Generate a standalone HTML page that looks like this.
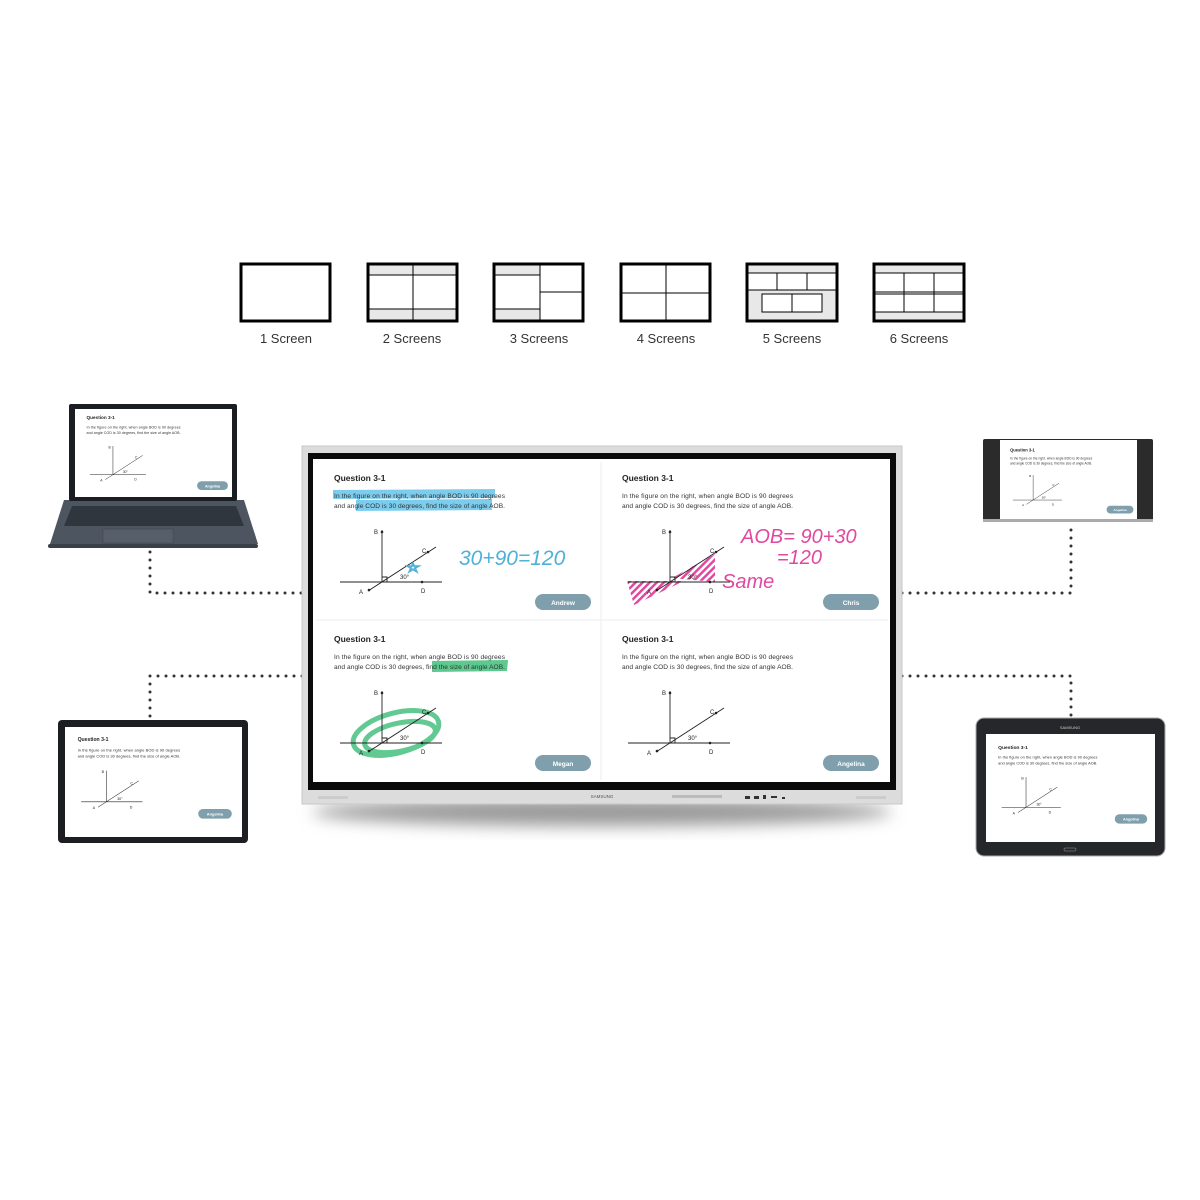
<!DOCTYPE html>
<html><head><meta charset="utf-8"><style>
html,body{margin:0;padding:0;background:#fff;}
svg{display:block;font-family:"Liberation Sans",sans-serif;}
</style></head><body>
<svg width="1200" height="1200" viewBox="0 0 1200 1200" xmlns="http://www.w3.org/2000/svg">
<defs>
<filter id="sh" x="-10%" y="-50%" width="120%" height="200%"><feGaussianBlur stdDeviation="8"/></filter>
<pattern id="hatch" width="5" height="5" patternUnits="userSpaceOnUse" patternTransform="rotate(45)"><rect width="2.5" height="5" fill="#e0499f"/></pattern>
</defs>
<rect width="1200" height="1200" fill="#fff"/>

<g stroke="#000" fill="none">
 <g>
  <rect x="241" y="264" width="89" height="57" fill="#fff" stroke-width="3"/>
 </g>
 <g>
  <rect x="368" y="264" width="89" height="11" fill="#e8e8e8" stroke="none"/>
  <rect x="368" y="309" width="89" height="12" fill="#e8e8e8" stroke="none"/>
  <line x1="368" y1="275" x2="457" y2="275" stroke-width="1"/><line x1="368" y1="309" x2="457" y2="309" stroke-width="1"/>
  <line x1="413" y1="264" x2="413" y2="321" stroke-width="1"/>
  <rect x="368" y="264" width="89" height="57" stroke-width="3"/>
 </g>
 <g>
  <rect x="494" y="264" width="46" height="11" fill="#e8e8e8" stroke="none"/>
  <rect x="494" y="309" width="46" height="12" fill="#e8e8e8" stroke="none"/>
  <line x1="494" y1="275" x2="540" y2="275" stroke-width="1"/><line x1="494" y1="309" x2="540" y2="309" stroke-width="1"/>
  <line x1="540" y1="264" x2="540" y2="321" stroke-width="1"/>
  <line x1="540" y1="292" x2="584" y2="292" stroke-width="1"/>
  <rect x="494" y="264" width="89" height="57" stroke-width="3"/>
 </g>
 <g>
  <line x1="666" y1="264" x2="666" y2="321" stroke-width="1"/>
  <line x1="621" y1="293" x2="710" y2="293" stroke-width="1"/>
  <rect x="621" y="264" width="89" height="57" stroke-width="3"/>
 </g>
 <g>
  <rect x="747" y="264" width="90" height="9" fill="#e8e8e8" stroke="none"/>
  <rect x="747" y="290" width="90" height="31" fill="#e8e8e8" stroke="none"/>
  <line x1="747" y1="273" x2="837" y2="273" stroke-width="1"/>
  <line x1="747" y1="290" x2="837" y2="290" stroke-width="1"/>
  <line x1="777" y1="273" x2="777" y2="290" stroke-width="1"/><line x1="807" y1="273" x2="807" y2="290" stroke-width="1"/>
  <rect x="762" y="294" width="60" height="18" fill="#fff" stroke-width="1"/>
  <line x1="792" y1="294" x2="792" y2="312" stroke-width="1"/>
  <rect x="747" y="264" width="90" height="57" stroke-width="3"/>
 </g>
 <g>
  <rect x="874" y="264" width="90" height="9" fill="#e8e8e8" stroke="none"/>
  <rect x="874" y="312" width="90" height="9" fill="#e8e8e8" stroke="none"/>
  <line x1="874" y1="273" x2="964" y2="273" stroke-width="1"/>
  <line x1="874" y1="292" x2="964" y2="292" stroke-width="1"/><line x1="874" y1="294" x2="964" y2="294" stroke-width="1"/>
  <line x1="874" y1="312" x2="964" y2="312" stroke-width="1"/>
  <line x1="904" y1="273" x2="904" y2="312" stroke-width="1"/><line x1="934" y1="273" x2="934" y2="312" stroke-width="1"/>
  <rect x="874" y="264" width="90" height="57" stroke-width="3"/>
 </g>
</g>
<g font-size="13" fill="#333" text-anchor="middle">
 <text x="286" y="343">1 Screen</text><text x="412" y="343">2 Screens</text><text x="539" y="343">3 Screens</text>
 <text x="666" y="343">4 Screens</text><text x="792" y="343">5 Screens</text><text x="919" y="343">6 Screens</text>
</g>

<g stroke="#333" stroke-width="3" stroke-linecap="round" stroke-dasharray="0 8" fill="none">
 <polyline points="150,552 150,593 302,593"/>
 <polyline points="902,593 1071,593 1071,525"/>
 <polyline points="302,676 150,676 150,718"/>
 <polyline points="902,676 1071,676 1071,716"/>
</g>

<ellipse cx="602" cy="812" rx="290" ry="14" fill="#999" filter="url(#sh)"/>
<rect x="302" y="446" width="600" height="358" fill="#dcdcdc" stroke="#c8c8c8"/>
<rect x="308" y="453" width="588" height="337" fill="#0a0a0a"/>
<rect x="313" y="459" width="577" height="323" fill="#fff"/>
<line x1="601" y1="462" x2="601" y2="780" stroke="#eee"/>
<line x1="316" y1="620" x2="888" y2="620" stroke="#eee"/>
<text x="602" y="798" font-size="4.5" fill="#555" text-anchor="middle">SAMSUNG</text>
<rect x="318" y="796" width="30" height="3" fill="#ccc"/><rect x="856" y="796" width="30" height="3" fill="#ccc"/>
<rect x="672" y="795" width="50" height="3" fill="#bbb"/>
<g fill="#333"><rect x="745" y="796" width="5" height="3"/><rect x="754" y="796" width="5" height="3"/><rect x="763" y="795" width="3" height="4"/><rect x="771" y="796" width="6" height="2"/><rect x="782" y="797" width="3" height="2"/></g>

<path d="M333,490 L495,489 L495,498 L333,499Z" fill="#5bc0e8" opacity="0.8"/>
<path d="M356,500 L492,499 L492,510 L356,511Z" fill="#5bc0e8" opacity="0.8"/>
<path d="M432,661 L508,660 L507,671 L432,672Z" fill="#3fbf7a" opacity="0.85"/>
<path d="M627,581 L684,581 L634,605Z" fill="url(#hatch)"/>
<path d="M672,578 L715,554 L715,582Z" fill="url(#hatch)"/>
<g fill="none" stroke="#46c07e" stroke-width="5" opacity="0.85">
 <ellipse cx="396" cy="733" rx="44" ry="20" transform="rotate(-15 396 733)"/>
 <ellipse cx="400" cy="737" rx="36" ry="14" transform="rotate(-12 400 737)"/>
</g>

<g transform="translate(313,459)">
 <text x="21" y="22" font-size="8.5" font-weight="bold" fill="#222">Question 3-1</text>
 <text x="21" y="39" font-size="6.6" fill="#333" textLength="171">In the figure on the right, when angle BOD is 90 degrees</text>
 <text x="21" y="49" font-size="6.6" fill="#333" textLength="171">and angle COD is 30 degrees, find the size of angle AOB.</text>
 <g stroke="#222" stroke-width="0.9" fill="none"><line x1="69" y1="71" x2="69" y2="123"/><line x1="27" y1="123" x2="129" y2="123"/><line x1="55" y1="132" x2="123" y2="88"/><polyline points="69,118 74,118 74,123"/></g>
 <g fill="#222"><circle cx="69" cy="73" r="1.3"/><circle cx="56" cy="131" r="1.3"/><circle cx="115" cy="93" r="1.3"/><circle cx="109" cy="123" r="1.3"/></g>
 <g font-size="6" fill="#222"><text x="61" y="75">B</text><text x="46" y="135">A</text><text x="109" y="94">C</text><text x="108" y="134">D</text><text x="87" y="120">30°</text></g>
 <rect x="222" y="135" width="56" height="16" rx="8" fill="#7f9fad"/>
 <text x="250" y="146" font-size="6.5" font-weight="bold" fill="#fff" text-anchor="middle">Andrew</text>
</g>
<g transform="translate(601,459)">
 <text x="21" y="22" font-size="8.5" font-weight="bold" fill="#222">Question 3-1</text>
 <text x="21" y="39" font-size="6.6" fill="#333" textLength="171">In the figure on the right, when angle BOD is 90 degrees</text>
 <text x="21" y="49" font-size="6.6" fill="#333" textLength="171">and angle COD is 30 degrees, find the size of angle AOB.</text>
 <g stroke="#222" stroke-width="0.9" fill="none"><line x1="69" y1="71" x2="69" y2="123"/><line x1="27" y1="123" x2="129" y2="123"/><line x1="55" y1="132" x2="123" y2="88"/><polyline points="69,118 74,118 74,123"/></g>
 <g fill="#222"><circle cx="69" cy="73" r="1.3"/><circle cx="56" cy="131" r="1.3"/><circle cx="115" cy="93" r="1.3"/><circle cx="109" cy="123" r="1.3"/></g>
 <g font-size="6" fill="#222"><text x="61" y="75">B</text><text x="46" y="135">A</text><text x="109" y="94">C</text><text x="108" y="134">D</text><text x="87" y="120">30°</text></g>
 <rect x="222" y="135" width="56" height="16" rx="8" fill="#7f9fad"/>
 <text x="250" y="146" font-size="6.5" font-weight="bold" fill="#fff" text-anchor="middle">Chris</text>
</g>
<g transform="translate(313,620)">
 <text x="21" y="22" font-size="8.5" font-weight="bold" fill="#222">Question 3-1</text>
 <text x="21" y="39" font-size="6.6" fill="#333" textLength="171">In the figure on the right, when angle BOD is 90 degrees</text>
 <text x="21" y="49" font-size="6.6" fill="#333" textLength="171">and angle COD is 30 degrees, find the size of angle AOB.</text>
 <g stroke="#222" stroke-width="0.9" fill="none"><line x1="69" y1="71" x2="69" y2="123"/><line x1="27" y1="123" x2="129" y2="123"/><line x1="55" y1="132" x2="123" y2="88"/><polyline points="69,118 74,118 74,123"/></g>
 <g fill="#222"><circle cx="69" cy="73" r="1.3"/><circle cx="56" cy="131" r="1.3"/><circle cx="115" cy="93" r="1.3"/><circle cx="109" cy="123" r="1.3"/></g>
 <g font-size="6" fill="#222"><text x="61" y="75">B</text><text x="46" y="135">A</text><text x="109" y="94">C</text><text x="108" y="134">D</text><text x="87" y="120">30°</text></g>
 <rect x="222" y="135" width="56" height="16" rx="8" fill="#7f9fad"/>
 <text x="250" y="146" font-size="6.5" font-weight="bold" fill="#fff" text-anchor="middle">Megan</text>
</g>
<g transform="translate(601,620)">
 <text x="21" y="22" font-size="8.5" font-weight="bold" fill="#222">Question 3-1</text>
 <text x="21" y="39" font-size="6.6" fill="#333" textLength="171">In the figure on the right, when angle BOD is 90 degrees</text>
 <text x="21" y="49" font-size="6.6" fill="#333" textLength="171">and angle COD is 30 degrees, find the size of angle AOB.</text>
 <g stroke="#222" stroke-width="0.9" fill="none"><line x1="69" y1="71" x2="69" y2="123"/><line x1="27" y1="123" x2="129" y2="123"/><line x1="55" y1="132" x2="123" y2="88"/><polyline points="69,118 74,118 74,123"/></g>
 <g fill="#222"><circle cx="69" cy="73" r="1.3"/><circle cx="56" cy="131" r="1.3"/><circle cx="115" cy="93" r="1.3"/><circle cx="109" cy="123" r="1.3"/></g>
 <g font-size="6" fill="#222"><text x="61" y="75">B</text><text x="46" y="135">A</text><text x="109" y="94">C</text><text x="108" y="134">D</text><text x="87" y="120">30°</text></g>
 <rect x="222" y="135" width="56" height="16" rx="8" fill="#7f9fad"/>
 <text x="250" y="146" font-size="6.5" font-weight="bold" fill="#fff" text-anchor="middle">Angelina</text>
</g>
<path d="M409,572 l4,-9 l4,9 l-10,-6 h12z" fill="none" stroke="#4fb0d8" stroke-width="1.5"/>
<text x="459" y="565" font-size="21" font-style="italic" fill="#4fb0d8" font-family="'Liberation Sans Narrow','Liberation Sans',sans-serif">30+90=120</text>
<g fill="#e0499f" font-style="italic" font-family="'Liberation Sans Narrow','Liberation Sans',sans-serif">
 <text x="741" y="543" font-size="20">AOB= 90+30</text>
 <text x="777" y="564" font-size="20">=120</text>
 <text x="722" y="588" font-size="20">Same</text>
</g>

<path d="M64,500 L244,500 L258,544 L50,544Z" fill="#4d5560"/>
<path d="M72,506 L236,506 L244,526 L64,526Z" fill="#30363e"/>
<rect x="103" y="529" width="70" height="14" fill="#565e69" stroke="#3e454e" stroke-width="0.5"/>
<rect x="48" y="544" width="210" height="4" rx="2" fill="#3a4048"/>
<rect x="69" y="404" width="168" height="97" rx="2" fill="#1a1d22"/>
<rect x="75" y="409" width="157" height="88" fill="#fff"/>
<g transform="translate(75,407) scale(0.55)">
 <text x="21" y="22" font-size="8.5" font-weight="bold" fill="#222">Question 3-1</text>
 <text x="21" y="39" font-size="6.6" fill="#333" textLength="171">In the figure on the right, when angle BOD is 90 degrees</text>
 <text x="21" y="49" font-size="6.6" fill="#333" textLength="171">and angle COD is 30 degrees, find the size of angle AOB.</text>
 <g stroke="#222" stroke-width="0.9" fill="none"><line x1="69" y1="71" x2="69" y2="123"/><line x1="27" y1="123" x2="129" y2="123"/><line x1="55" y1="132" x2="123" y2="88"/></g>
 <g font-size="6" fill="#222"><text x="61" y="75">B</text><text x="46" y="135">A</text><text x="109" y="94">C</text><text x="108" y="134">D</text><text x="87" y="120">30°</text></g>
 <rect x="222" y="135" width="56" height="16" rx="8" fill="#7f9fad"/>
 <text x="250" y="146" font-size="6.5" font-weight="bold" fill="#fff" text-anchor="middle">Angelina</text>
</g>

<rect x="983" y="439" width="170" height="83" rx="2" fill="#2b2b2b"/>
<rect x="1000" y="440" width="137" height="81" fill="#fff"/>
<rect x="983" y="519" width="170" height="3" fill="#aaa"/>
<g transform="translate(1000,441) scale(0.48)">
 <text x="21" y="22" font-size="8.5" font-weight="bold" fill="#222">Question 3-1</text>
 <text x="21" y="39" font-size="6.6" fill="#333" textLength="171">In the figure on the right, when angle BOD is 90 degrees</text>
 <text x="21" y="49" font-size="6.6" fill="#333" textLength="171">and angle COD is 30 degrees, find the size of angle AOB.</text>
 <g stroke="#222" stroke-width="0.9" fill="none"><line x1="69" y1="71" x2="69" y2="123"/><line x1="27" y1="123" x2="129" y2="123"/><line x1="55" y1="132" x2="123" y2="88"/></g>
 <g font-size="6" fill="#222"><text x="61" y="75">B</text><text x="46" y="135">A</text><text x="109" y="94">C</text><text x="108" y="134">D</text><text x="87" y="120">30°</text></g>
 <rect x="222" y="135" width="56" height="16" rx="8" fill="#7f9fad"/>
 <text x="250" y="146" font-size="6.5" font-weight="bold" fill="#fff" text-anchor="middle">Angelina</text>
</g>

<rect x="58" y="720" width="190" height="123" rx="4" fill="#1c1e22"/>
<rect x="65" y="727" width="177" height="110" fill="#fff"/>
<g transform="translate(65,728) scale(0.6)">
 <text x="21" y="22" font-size="8.5" font-weight="bold" fill="#222">Question 3-1</text>
 <text x="21" y="39" font-size="6.6" fill="#333" textLength="171">In the figure on the right, when angle BOD is 90 degrees</text>
 <text x="21" y="49" font-size="6.6" fill="#333" textLength="171">and angle COD is 30 degrees, find the size of angle AOB.</text>
 <g stroke="#222" stroke-width="0.9" fill="none"><line x1="69" y1="71" x2="69" y2="123"/><line x1="27" y1="123" x2="129" y2="123"/><line x1="55" y1="132" x2="123" y2="88"/></g>
 <g font-size="6" fill="#222"><text x="61" y="75">B</text><text x="46" y="135">A</text><text x="109" y="94">C</text><text x="108" y="134">D</text><text x="87" y="120">30°</text></g>
 <rect x="222" y="135" width="56" height="16" rx="8" fill="#7f9fad"/>
 <text x="250" y="146" font-size="6.5" font-weight="bold" fill="#fff" text-anchor="middle">Angelina</text>
</g>

<rect x="976" y="718" width="189" height="138" rx="8" fill="#25272b" stroke="#aaa" stroke-width="1"/>
<text x="1070" y="729" font-size="4" fill="#ccc" text-anchor="middle">SAMSUNG</text>
<rect x="986" y="734" width="169" height="108" fill="#fff"/>
<rect x="1064" y="848" width="12" height="3" rx="1.5" fill="none" stroke="#777" stroke-width="0.7"/>
<g transform="translate(986,736) scale(0.58)">
 <text x="21" y="22" font-size="8.5" font-weight="bold" fill="#222">Question 3-1</text>
 <text x="21" y="39" font-size="6.6" fill="#333" textLength="171">In the figure on the right, when angle BOD is 90 degrees</text>
 <text x="21" y="49" font-size="6.6" fill="#333" textLength="171">and angle COD is 30 degrees, find the size of angle AOB.</text>
 <g stroke="#222" stroke-width="0.9" fill="none"><line x1="69" y1="71" x2="69" y2="123"/><line x1="27" y1="123" x2="129" y2="123"/><line x1="55" y1="132" x2="123" y2="88"/></g>
 <g font-size="6" fill="#222"><text x="61" y="75">B</text><text x="46" y="135">A</text><text x="109" y="94">C</text><text x="108" y="134">D</text><text x="87" y="120">30°</text></g>
 <rect x="222" y="135" width="56" height="16" rx="8" fill="#7f9fad"/>
 <text x="250" y="146" font-size="6.5" font-weight="bold" fill="#fff" text-anchor="middle">Angelina</text>
</g>
</svg>
</body></html>
